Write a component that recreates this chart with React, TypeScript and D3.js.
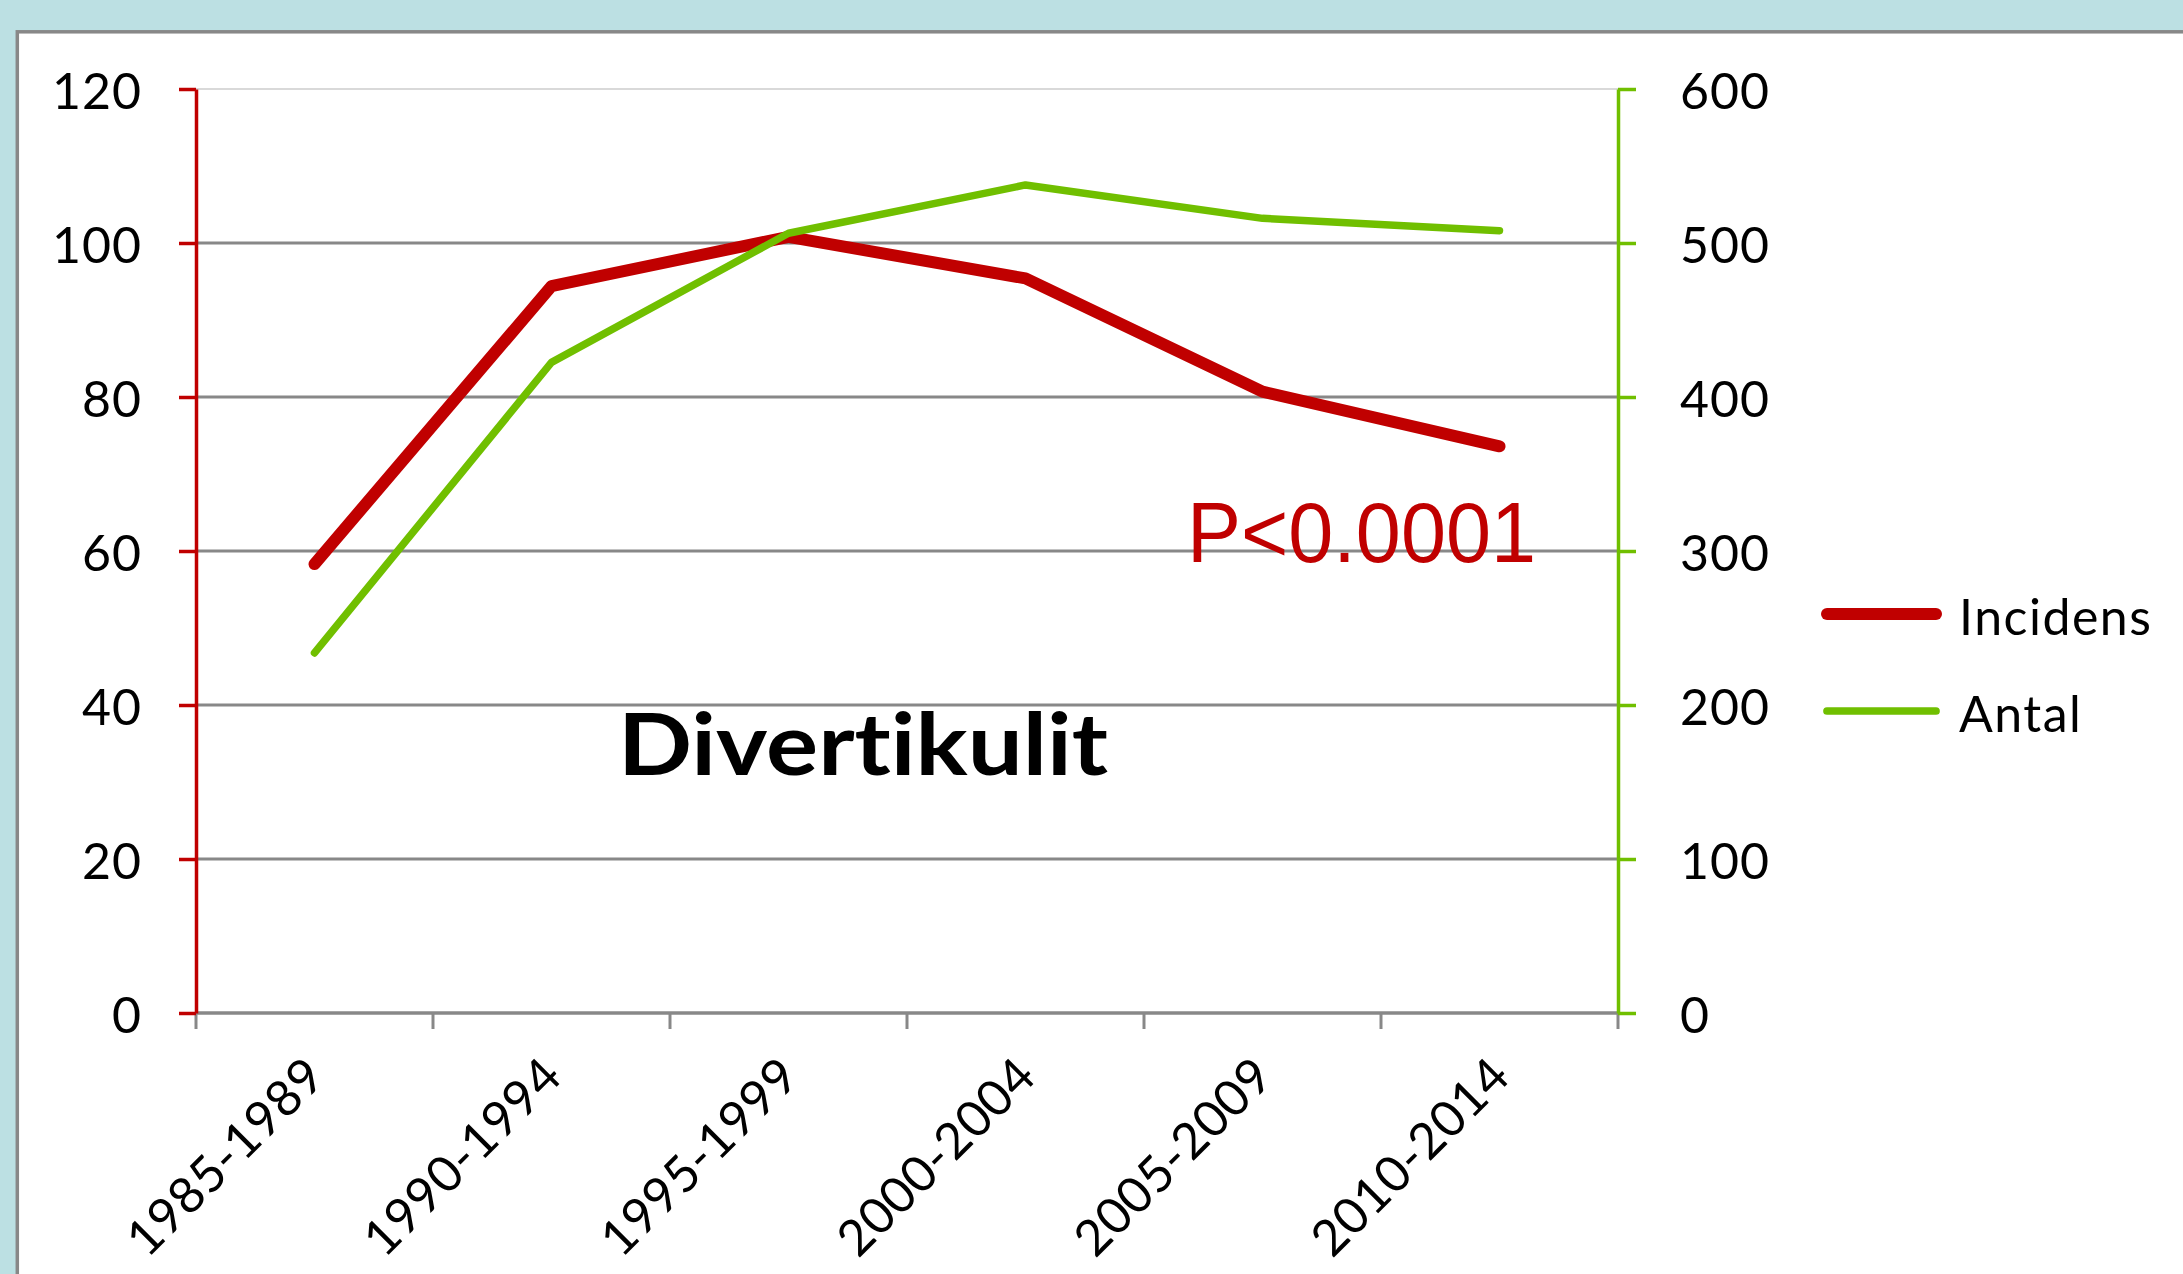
import React, { useEffect, useRef } from 'react';
import * as d3 from 'd3';

// values
const periods = ['1985-1989', '1990-1994', '1995-1999', '2000-2004', '2005-2009', '2010-2014'];
const incidens = [58.3, 94.4, 100.8, 95.4, 80.7, 73.6];
const antal = [233.8, 422.5, 506.3, 537.7, 516, 508];
const leftTicks = [0, 20, 40, 60, 80, 100, 120];
const rightTicks = [0, 100, 200, 300, 400, 500, 600];
const seriesNames = ['Incidens', 'Antal'];

const RED = '#c00000';
const GREEN = '#70bf00';
const GRID = '#888888';
const FONT = 'Lato, "Open Sans", sans-serif';

const App = () => {
  const svgRef = useRef<SVGSVGElement>(null);

  useEffect(() => {
    const svg = d3.select(svgRef.current);
    svg.selectAll('*').remove();

    const width = 2183;
    const height = 1274;
    const plot = { left: 196, right: 1618, top: 89, bottom: 1013 };

    // background + slide frame
    svg.append('rect').attr('width', width).attr('height', height).attr('fill', '#bce0e3');
    svg.append('rect')
      .attr('x', 17.3).attr('y', 31.8)
      .attr('width', width + 50).attr('height', height + 50)
      .attr('fill', '#fff').attr('stroke', GRID).attr('stroke-width', 3.5);

    const x = d3.scaleBand().domain(periods).range([plot.left, plot.right]);
    const yLeft = d3.scaleLinear().domain([0, 120]).range([plot.bottom, plot.top]);
    const yRight = d3.scaleLinear().domain([0, 600]).range([plot.bottom, plot.top]);
    const cx = (d: string) => (x(d) ?? 0) + x.bandwidth() / 2;

    // gridlines
    svg.append('g')
      .selectAll('line')
      .data(leftTicks.filter(t => t > 0))
      .enter().append('line')
      .attr('x1', plot.left).attr('x2', plot.right)
      .attr('y1', d => yLeft(d)).attr('y2', d => yLeft(d))
      .attr('stroke', d => (d === 120 ? '#d9d9d9' : GRID))
      .attr('stroke-width', d => (d === 120 ? 2 : 3));

    // x axis with ticks on band boundaries
    const xg = svg.append('g');
    xg.append('line')
      .attr('x1', plot.left).attr('x2', plot.right)
      .attr('y1', plot.bottom).attr('y2', plot.bottom)
      .attr('stroke', GRID).attr('stroke-width', 3.5);
    const bounds = periods.map(p => x(p) ?? 0).concat([x.range()[1]]);
    xg.selectAll('.xtick')
      .data(bounds)
      .enter().append('line')
      .attr('class', 'xtick')
      .attr('x1', d => d).attr('x2', d => d)
      .attr('y1', plot.bottom).attr('y2', plot.bottom + 16)
      .attr('stroke', GRID).attr('stroke-width', 3);
    xg.selectAll('.xlabel')
      .data(periods)
      .enter().append('text')
      .attr('class', 'xlabel')
      .attr('transform', d => `translate(${cx(d) + 13},${plot.bottom + 66}) rotate(-45)`)
      .attr('text-anchor', 'end')
      .style('font-family', FONT)
      .style('font-size', '50px')
      .style('letter-spacing', '0.5px')
      .attr('fill', '#000')
      .text(d => d);

    // left axis
    const lg = svg.append('g')
      .attr('transform', `translate(${plot.left},0)`)
      .call(d3.axisLeft(yLeft).tickValues(leftTicks).tickSize(17).tickSizeOuter(0).tickPadding(37));
    lg.select('.domain').attr('stroke', RED).attr('stroke-width', 3.5);
    lg.selectAll('.tick line').attr('stroke', RED).attr('stroke-width', 3.5);
    lg.selectAll('.tick text')
      .attr('dy', '0.38em')
      .style('font-family', FONT).style('font-size', '50px').style('letter-spacing', '1px')
      .attr('fill', '#000');

    // right axis
    const rg = svg.append('g')
      .attr('transform', `translate(${plot.right},0)`)
      .call(d3.axisRight(yRight).tickValues(rightTicks).tickSize(18).tickSizeOuter(0).tickPadding(44));
    rg.select('.domain').attr('stroke', GREEN).attr('stroke-width', 3.5);
    rg.selectAll('.tick line').attr('stroke', GREEN).attr('stroke-width', 3.5);
    rg.selectAll('.tick text')
      .attr('dy', '0.38em')
      .style('font-family', FONT).style('font-size', '50px').style('letter-spacing', '1px')
      .attr('fill', '#000');

    // series lines
    const lineLeft = d3.line<number>()
      .x((d, i) => cx(periods[i]))
      .y(d => yLeft(d));
    const lineRight = d3.line<number>()
      .x((d, i) => cx(periods[i]))
      .y(d => yRight(d));

    svg.append('path')
      .datum(incidens)
      .attr('fill', 'none')
      .attr('stroke', RED)
      .attr('stroke-width', 12)
      .attr('stroke-linejoin', 'round')
      .attr('stroke-linecap', 'round')
      .attr('d', lineLeft);

    svg.append('path')
      .datum(antal)
      .attr('fill', 'none')
      .attr('stroke', GREEN)
      .attr('stroke-width', 7.5)
      .attr('stroke-linejoin', 'round')
      .attr('stroke-linecap', 'round')
      .attr('d', lineRight);

    // annotations
    svg.append('text')
      .attr('x', 1187).attr('y', 562)
      .attr('textLength', 349).attr('lengthAdjust', 'spacingAndGlyphs')
      .style('font-family', '"Liberation Sans", Arial, sans-serif')
      .style('font-size', '86px')
      .attr('fill', RED)
      .text('P<0.0001');

    svg.append('text')
      .attr('x', 618).attr('y', 775)
      .attr('textLength', 490).attr('lengthAdjust', 'spacingAndGlyphs')
      .style('font-family', FONT)
      .style('font-size', '87px')
      .style('font-weight', 'bold')
      .style('font-variant-ligatures', 'none')
      .style('font-feature-settings', '"liga" 0, "clig" 0')
      .attr('fill', '#000')
      .text('Divertikulit');

    // legend
    const legendColors = [RED, GREEN];
    const legendWidths = [12, 7.7];
    const legend = svg.selectAll('.legend')
      .data(seriesNames)
      .enter().append('g')
      .attr('class', 'legend')
      .attr('transform', (d, i) => `translate(0,${614 + i * 97})`);

    legend.append('line')
      .attr('x1', 1827).attr('x2', 1936)
      .attr('stroke', (d, i) => legendColors[i])
      .attr('stroke-width', (d, i) => legendWidths[i])
      .attr('stroke-linecap', 'round');

    legend.append('text')
      .attr('x', 1959)
      .attr('y', 21)
      .style('font-family', FONT)
      .style('font-size', '50px')
      .style('letter-spacing', '1.5px')
      .attr('fill', '#000')
      .text(d => d);
  }, []);

  return (
    <svg
      ref={svgRef}
      width={2183}
      height={1274}
      style={{ position: 'absolute', left: 0, top: 0, display: 'block' }}
    />
  );
};

export default App;
